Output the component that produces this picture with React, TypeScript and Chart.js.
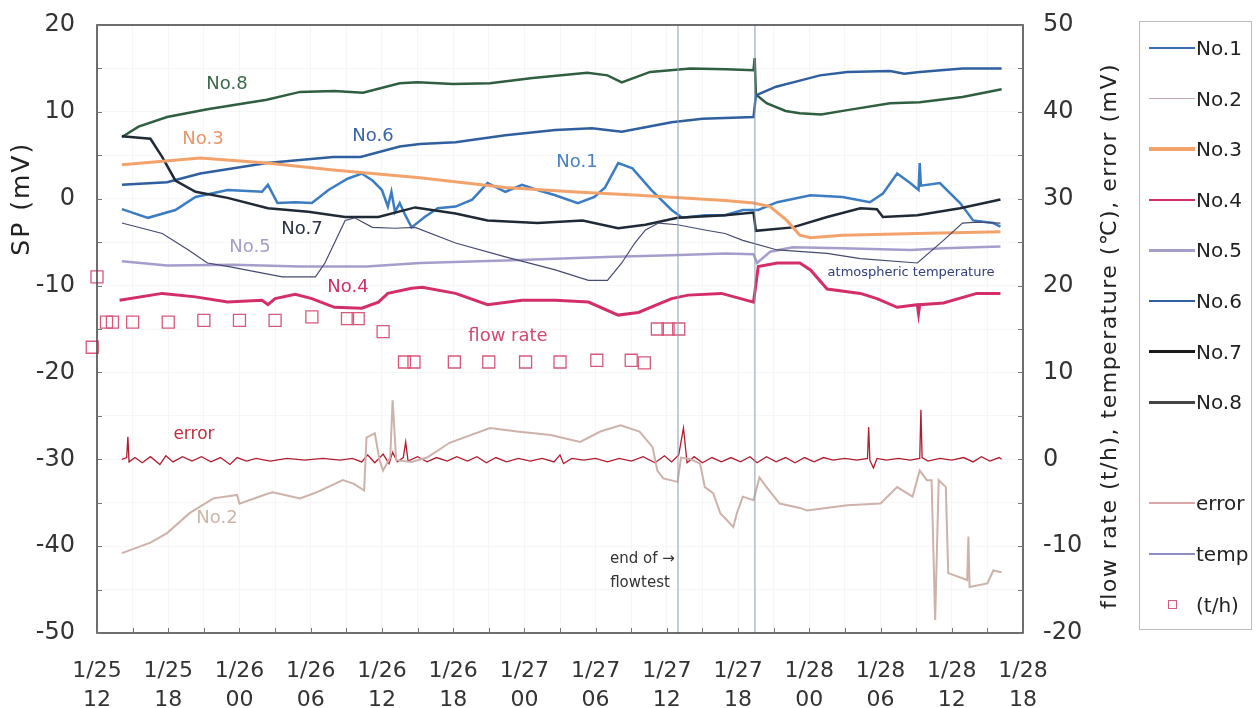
import React, { useEffect, useRef } from 'react';
import { Chart, registerables } from 'chart.js';

Chart.register(...registerables);

const FONT = '"DejaVu Sans", "Noto Sans", sans-serif';

// x axis: hours since 1/25 12:00
const xTickDates = ['1/25', '1/25', '1/26', '1/26', '1/26', '1/26', '1/27', '1/27', '1/27', '1/27', '1/28', '1/28', '1/28', '1/28'];
const xTickHours = ['12', '18', '00', '06', '12', '18', '00', '06', '12', '18', '00', '06', '12', '18'];

// SP (mV), [hour, value]
const no1 = [[2.1, -1.2], [4.3, -2.2], [6.6, -1.3], [8.3, 0.2], [11, 1.0], [13.9, 0.8], [14.4, 1.6], [15.2, -0.5], [16.7, -0.4], [18.1, -0.5], [19.5, 1.0], [21.1, 2.3], [22.3, 2.9], [23.2, 2.1], [24, 1.0], [24.5, -0.9], [24.8, 0.8], [25.1, -1.5], [25.5, -0.5], [25.9, -1.7], [26.5, -3.3], [27.6, -2.1], [28.7, -1.1], [30.2, -0.9], [31.6, -0.1], [32.9, 1.8], [34.4, 0.8], [35.8, 1.6], [37.1, 1.0], [38.6, 0.4], [40.5, -0.5], [41.9, 0.2], [42.8, 1.3], [43.9, 4.1], [45.1, 3.5], [46.7, 1.0], [48.4, -1.3], [49.3, -2.2], [51.2, -1.9], [52.9, -1.9], [54.4, -1.3], [55.7, -1.3], [57.3, -0.4], [60.1, 0.4], [62.8, 0.2], [65.1, -0.4], [66.2, 0.6], [67.4, 2.9], [68.5, 1.8], [69.2, 1.0], [69.3, 4.1], [69.4, 1.5], [71, 1.8], [72.7, -0.5], [73.8, -2.5], [75.5, -2.8], [76.1, -3.2]];
const no2 = [[2.1, -40.8], [4.5, -39.6], [5.9, -38.5], [7.8, -36.2], [9.8, -34.5], [11.8, -34.1], [12, -35.1], [14.3, -34.0], [14.8, -33.8], [17.1, -34.5], [18.5, -33.8], [20.7, -32.4], [21.6, -32.8], [22.5, -33.6], [22.7, -27.5], [23.4, -27.0], [23.8, -30.1], [24.1, -31.3], [24.7, -29.8], [24.9, -23.2], [25.2, -30.1], [26.5, -30.3], [27.8, -29.8], [29.7, -28.1], [33.1, -26.4], [35.4, -26.8], [38.2, -27.2], [40.7, -28.0], [42.4, -26.8], [44.1, -26.1], [45.7, -26.8], [46.8, -28.6], [47.2, -31.3], [47.7, -32.2], [48.9, -32.6], [49.2, -29.8], [50, -30.0], [50.8, -30.5], [51.2, -33.2], [51.9, -33.9], [52.5, -36.2], [53.6, -37.8], [53.9, -36.2], [54.4, -34.3], [55.3, -34.7], [55.8, -32.1], [56.4, -33.2], [57.5, -35.1], [59.2, -35.6], [59.8, -35.9], [63.2, -35.3], [66, -35.1], [67.4, -33.2], [68.7, -34.3], [69.3, -31.3], [69.9, -32.4], [70.3, -32.4], [70.6, -48.5], [70.9, -32.4], [71.5, -33.2], [71.7, -43.1], [73.3, -43.9], [73.4, -38.9], [73.5, -44.7], [75, -44.3], [75.5, -42.8], [76.2, -43.0]];
const no3 = [[2.1, 3.9], [8.7, 4.7], [14.3, 4.1], [19.9, 3.3], [27.2, 2.4], [34.4, 1.3], [40.0, 0.8], [45.6, 0.4], [52.9, -0.2], [55.3, -0.5], [56.7, -0.9], [58.1, -2.5], [59.2, -4.2], [60.1, -4.5], [62.8, -4.2], [69.1, -4.0], [76.1, -3.8]];
const no4 = [[1.9, -11.7], [5.5, -10.9], [8.3, -11.3], [11, -11.9], [13.9, -11.7], [14.4, -12.2], [15, -11.5], [16.7, -11.0], [18.1, -11.5], [20, -12.5], [22.3, -12.6], [23.7, -11.9], [24.5, -10.9], [26.5, -10.3], [27.4, -10.2], [30.2, -10.9], [32.9, -12.2], [35.8, -11.7], [38.6, -11.7], [41.4, -11.9], [43.9, -13.4], [45.6, -13.1], [48.4, -11.5], [49.8, -11.1], [52.6, -10.9], [55.3, -11.9], [55.7, -7.8], [57.3, -7.4], [59.2, -7.4], [60.1, -8.2], [61.5, -10.4], [64.3, -10.9], [65.7, -11.5], [67.4, -12.5], [69.1, -12.2], [69.2, -13.2], [69.3, -12.2], [71.3, -12.0], [74.1, -10.9], [76.1, -10.9]];
const no5 = [[2.1, -7.2], [5.9, -7.7], [11.5, -7.6], [17.1, -7.8], [22.7, -7.8], [27.2, -7.4], [34.4, -7.1], [42.8, -6.7], [48.4, -6.5], [52.9, -6.3], [55.3, -6.4], [55.6, -7.4], [56.7, -6.1], [58.6, -5.6], [62.8, -5.7], [68.5, -5.9], [71.3, -5.7], [76.1, -5.5]];
const no6 = [[2.1, 1.6], [5.9, 1.9], [8.7, 2.9], [14.3, 4.1], [19.9, 4.8], [22.2, 4.8], [25.5, 6.0], [27.2, 6.3], [30.2, 6.5], [34.4, 7.3], [38.6, 7.9], [41.7, 8.1], [44.2, 7.7], [48.4, 8.8], [51, 9.2], [55.3, 9.4], [55.5, 11.9], [57.2, 12.9], [59.2, 13.6], [60.9, 14.2], [63.2, 14.6], [66.8, 14.7], [68, 14.4], [69.3, 14.6], [72.9, 15.0], [76.2, 15.0]];
const no7 = [[2.1, 7.2], [4.5, 6.9], [5.5, 4.8], [6.6, 2.1], [8.3, 0.8], [11, 0.1], [14.4, -1.1], [17.8, -1.5], [20.9, -2.1], [23.7, -2.1], [26.8, -1.0], [30.2, -1.7], [32.9, -2.5], [37.1, -2.8], [40.9, -2.5], [43.9, -3.4], [46.2, -3.0], [48.9, -2.2], [52.9, -1.9], [55.3, -1.6], [55.5, -3.7], [58.6, -3.3], [61.5, -2.1], [64.3, -1.1], [65.7, -1.2], [66.2, -2.1], [69.1, -1.9], [72.7, -1.1], [76.1, -0.1]];
const no8 = [[2.1, 7.1], [3.5, 8.3], [5.9, 9.4], [9.3, 10.3], [14.3, 11.4], [17.1, 12.3], [20, 12.4], [22.4, 12.2], [25.5, 13.3], [27, 13.4], [30, 13.2], [33.1, 13.3], [36.7, 13.9], [41.3, 14.5], [43, 14.2], [44.2, 13.4], [46.6, 14.6], [50, 15.0], [53, 14.9], [55.3, 14.8], [55.4, 16.2], [55.5, 12.0], [56.4, 11.0], [58, 10.1], [59.2, 9.85], [61, 9.7], [63.2, 10.2], [66.8, 11.0], [69.3, 11.1], [72.9, 11.7], [76.2, 12.6]];

// right axis: temperature (°C), error (mV), flow rate (t/h)
const tempC = [[2.1, 27.2], [5.5, 26.0], [7.7, 24.1], [9.3, 22.6], [11, 22.2], [13.3, 21.6], [15.6, 21.0], [18.4, 21.0], [19.2, 22.6], [20, 24.9], [20.9, 27.5], [21.7, 27.8], [23.2, 26.7], [25.1, 26.6], [26.8, 26.7], [30.2, 24.9], [34.4, 23.3], [38.6, 21.8], [41.4, 20.6], [43, 20.6], [44.2, 22.6], [45.3, 24.9], [46.2, 26.4], [47.3, 27.2], [48.9, 27.0], [51.2, 26.4], [52.9, 26.0], [54.4, 25.2], [57.3, 24.1], [61.5, 23.7], [64.3, 23.1], [69.1, 22.6], [71.3, 25.2], [72.9, 27.2], [74.1, 27.3], [76.1, 27.2]];
const errorMV = [[2.1, 0], [2.5, 0.2], [2.6, 2.6], [2.7, -0.3], [3.2, 0.2], [3.8, -0.4], [4.5, 0.3], [5.3, -0.6], [5.8, 0.4], [6.4, -0.3], [7.2, 0.3], [8, -0.2], [8.8, 0.3], [9.6, -0.3], [10.4, 0.2], [11.2, -0.6], [11.8, 0.2], [12.6, -0.2], [13.4, 0.1], [14.6, -0.2], [16, 0.1], [17.5, -0.1], [19, 0.1], [20.5, -0.1], [21.5, 0.1], [22.3, -0.3], [22.8, 0.5], [23.4, -0.4], [24.1, 0.6], [24.6, -0.5], [24.9, 0.8], [25.3, -0.3], [25.8, 0.2], [26.0, 2.0], [26.2, -0.2], [27, 0.3], [27.8, -0.3], [28.6, 0.2], [29.5, -0.2], [30.3, 0.3], [31.2, -0.2], [32.0, 0.3], [32.8, -0.4], [33.6, 0.2], [34.5, -0.3], [35.5, 0.1], [36.5, -0.2], [37.5, 0.1], [38.5, -0.3], [39.0, 0.5], [39.3, -0.5], [40, 0.1], [41, -0.1], [42, 0.1], [43, -0.3], [44, 0.1], [45, -0.2], [46, 0.3], [47, -0.4], [47.8, 0.4], [48.4, -0.3], [49, 0.5], [49.4, 3.6], [49.7, -0.4], [50.3, 0.3], [51, -0.4], [51.8, 0.2], [52.6, -0.3], [53.4, 0.2], [54.2, -0.3], [55, 0.3], [55.6, -0.4], [56.4, 0.3], [57.2, -0.3], [58, 0.2], [58.8, -0.4], [59.6, 0.2], [60.4, -0.3], [61.2, 0.2], [62, -0.1], [63, 0.1], [64, -0.1], [64.9, 0.1], [65.0, 3.7], [65.1, -0.1], [65.4, -1.0], [65.7, 0.1], [66.5, -0.1], [67.5, 0.1], [68.5, -0.1], [69.3, 0.1], [69.4, 5.7], [69.5, 0.2], [70, -0.2], [71, 0.1], [72, -0.1], [73, 0.2], [73.8, -0.3], [74.5, 0.3], [75.2, -0.2], [76, 0.2], [76.2, 0]];
const flowTH = [[-0.4, 12.9], [0, 21.0], [0.8, 15.8], [1.3, 15.8], [3, 15.8], [6, 15.8], [9, 16.0], [12, 16.0], [15, 16.0], [18.1, 16.4], [21.1, 16.2], [22, 16.2], [24.1, 14.7], [25.9, 11.2], [26.7, 11.2], [30.1, 11.2], [33, 11.2], [36.1, 11.2], [39, 11.2], [42.1, 11.4], [45, 11.4], [46.1, 11.1], [47.2, 15.0], [48.1, 15.0], [49, 15.0]];

// vertical markers (hours)
const markerHours = [48.94, 55.42];

const COLORS = {
  no1: '#3b7cc2', no2: '#cdb2aa', no3: '#f2a36c', no4: '#d42e6a', no5: '#a79dcc',
  no6: '#2f5f9f', no7: '#1f2a36', no8: '#2f5e40', temp: '#454a70', error: '#b01c30', flow: '#d8587a',
};

const annotations = [
  { text: 'No.8', x: 10.95, y: 13.2, color: '#3b6a48', size: 18 },
  { text: 'No.3', x: 8.93, y: 6.86, color: '#eb9568', size: 18 },
  { text: 'No.6', x: 23.25, y: 7.22, color: '#3a64a8', size: 18 },
  { text: 'No.1', x: 40.43, y: 4.23, color: '#4a80c0', size: 18 },
  { text: 'No.7', x: 17.27, y: -3.5, color: '#2a3340', size: 18 },
  { text: 'No.5', x: 12.89, y: -5.56, color: '#a49cca', size: 18 },
  { text: 'No.4', x: 21.14, y: -10.17, color: '#d0306a', size: 18 },
  { text: 'flow rate', x: 34.62, y: -15.9, color: '#d04a70', size: 18 },
  { text: 'error', x: 8.17, y: -27.2, color: '#c03040', size: 17 },
  { text: 'No.2', x: 10.11, y: -36.8, color: '#cdb6a8', size: 18 },
  { text: 'atmospheric temperature', x: 68.57, y: -8.55, color: '#34407c', size: 13 },
  { text: 'end of \u2192', x: 45.95, y: -41.5, color: '#333', size: 15 },
  { text: 'flowtest', x: 45.74, y: -44.3, color: '#333', size: 15 },
];

const legendItems = [
  { label: 'No.1', color: '#3a6cb0', width: 2.5, kind: 'line' },
  { label: 'No.2', color: '#c4aaa8', width: 1.5, kind: 'line' },
  { label: 'No.3', color: '#f2a36c', width: 4, kind: 'line' },
  { label: 'No.4', color: '#d42e6a', width: 2.5, kind: 'line' },
  { label: 'No.5', color: '#a79dcc', width: 2.5, kind: 'line' },
  { label: 'No.6', color: '#2f5f9f', width: 2.5, kind: 'line' },
  { label: 'No.7', color: '#1a1a1a', width: 2.5, kind: 'line' },
  { label: 'No.8', color: '#444444', width: 3, kind: 'line' },
  null,
  { label: 'error', color: '#d8a8a8', width: 2, kind: 'line' },
  { label: 'temp', color: '#8c8ec4', width: 1.5, kind: 'line' },
  { label: '(t/h)', color: '#d8587a', width: 1, kind: 'square' },
];

const pts = (arr: number[][]) => arr.map(([x, y]) => ({ x, y }));

const decorPlugin = {
  id: 'decor',
  afterDraw(chart: any) {
    const { ctx, chartArea, scales } = chart;
    const x = scales.x, yl = scales.y, yr = scales.y2;
    ctx.save();
    // plot frame
    ctx.strokeStyle = '#4a4a4a';
    ctx.lineWidth = 1.6;
    ctx.strokeRect(chartArea.left, chartArea.top, chartArea.right - chartArea.left, chartArea.bottom - chartArea.top);
    // inward tick marks
    ctx.strokeStyle = '#777';
    ctx.lineWidth = 1;
    ctx.beginPath();
    for (let h = 0; h <= 78; h += 3) {
      const px = Math.round(x.getPixelForValue(h)) + 0.5;
      ctx.moveTo(px, chartArea.bottom);
      ctx.lineTo(px, chartArea.bottom - 5);
    }
    for (let v = -50; v <= 20; v += 5) {
      const py = Math.round(yl.getPixelForValue(v)) + 0.5;
      ctx.moveTo(chartArea.left, py);
      ctx.lineTo(chartArea.left + 5, py);
    }
    for (let v = -20; v <= 50; v += 5) {
      const py = Math.round(yr.getPixelForValue(v)) + 0.5;
      ctx.moveTo(chartArea.right, py);
      ctx.lineTo(chartArea.right - 5, py);
    }
    ctx.stroke();
    // annotations
    ctx.textBaseline = 'middle';
    annotations.forEach((a) => {
      ctx.font = `${a.size}px ${FONT}`;
      ctx.fillStyle = a.color;
      ctx.textAlign = 'center';
      ctx.fillText(a.text, x.getPixelForValue(a.x), yl.getPixelForValue(a.y));
    });
    // axis titles
    ctx.fillStyle = '#222';
    ctx.textAlign = 'center';
    ctx.save();
    ctx.translate(chartArea.left - 75, yl.getPixelForValue(0));
    ctx.rotate(-Math.PI / 2);
    ctx.font = `25px ${FONT}`;
    (ctx as any).letterSpacing = '2px';
    ctx.fillText('SP (mV)', 0, 0);
    ctx.restore();
    ctx.save();
    ctx.translate(chartArea.right + 87, (chartArea.top + chartArea.bottom) / 2 + 7);
    ctx.rotate(-Math.PI / 2);
    ctx.font = `22px ${FONT}`;
    (ctx as any).letterSpacing = '1.5px';
    ctx.fillText('flow rate (t/h), temperature (\u2103), error (mV)', 0, 0);
    ctx.restore();
    ctx.restore();
  },
};

export default function App() {
  const ref = useRef<HTMLCanvasElement | null>(null);

  useEffect(() => {
    const line = (label: string, data: number[][], color: string, width: number, axis = 'y') => ({
      label,
      data: pts(data),
      borderColor: color,
      backgroundColor: color,
      borderWidth: width,
      pointRadius: 0,
      tension: 0,
      fill: false,
      yAxisID: axis,
    });

    const datasets: any[] = [
      ...markerHours.map((h, i) => ({
        label: 'marker' + i,
        data: [{ x: h, y: -50 }, { x: h, y: 20 }],
        borderColor: '#8c9cab',
        borderWidth: 1,
        pointRadius: 0,
        yAxisID: 'y',
      })),
      line('No.2', no2, COLORS.no2, 2),
      line('error', errorMV, COLORS.error, 1.3, 'y2'),
      line('temp', tempC, COLORS.temp, 1.2, 'y2'),
      line('No.5', no5, COLORS.no5, 2.5),
      line('No.3', no3, COLORS.no3, 3),
      line('No.4', no4, COLORS.no4, 3),
      line('No.7', no7, COLORS.no7, 2.5),
      line('No.1', no1, COLORS.no1, 2.5),
      line('No.6', no6, COLORS.no6, 2.5),
      line('No.8', no8, COLORS.no8, 2.5),
      {
        label: '(t/h)',
        data: pts(flowTH),
        showLine: false,
        pointStyle: 'rect',
        pointRadius: 8.5,
        pointBorderWidth: 1.3,
        pointBorderColor: COLORS.flow,
        pointBackgroundColor: 'rgba(0,0,0,0)',
        yAxisID: 'y2',
        clip: false,
      },
    ];

    const chart = new Chart(ref.current as HTMLCanvasElement, {
      type: 'line',
      data: { datasets },
      options: {
        animation: false,
        responsive: false,
        devicePixelRatio: 1,
        layout: { padding: { left: 0, top: 25, right: 127, bottom: 0 } },
        plugins: { legend: { display: false }, tooltip: { enabled: false } },
        scales: {
          x: {
            type: 'linear',
            min: 0,
            max: 78,
            afterFit: (s: any) => { s.height = 75; s.paddingLeft = 0; s.paddingRight = 0; },
            ticks: {
              stepSize: 3,
              autoSkip: false,
              maxRotation: 0,
              padding: 24,
              color: '#333',
              font: { family: FONT, size: 22, lineHeight: 1.3 },
              callback: (v: any) => {
                const n = Number(v);
                if (n % 6 !== 0) return '';
                const i = n / 6;
                return [xTickDates[i], xTickHours[i]];
              },
            },
            grid: { color: 'rgba(0,0,0,0.035)', drawTicks: false },
            border: { display: false },
          },
          y: {
            type: 'linear',
            position: 'left',
            min: -50,
            max: 20,
            afterFit: (s: any) => { s.width = 97; s.paddingTop = 0; s.paddingBottom = 0; },
            ticks: {
              stepSize: 5,
              padding: 22,
              color: '#333',
              font: { family: FONT, size: 24 },
              callback: (v: any) => (Number(v) % 10 === 0 ? String(v) : ''),
            },
            grid: { color: 'rgba(0,0,0,0.03)', drawTicks: false },
            border: { display: false },
          },
          y2: {
            type: 'linear',
            position: 'right',
            min: -20,
            max: 50,
            afterFit: (s: any) => { s.width = 110; s.paddingTop = 0; s.paddingBottom = 0; },
            ticks: {
              stepSize: 5,
              padding: 20,
              color: '#333',
              font: { family: FONT, size: 24 },
              callback: (v: any) => (Number(v) % 10 === 0 ? String(v) : ''),
            },
            grid: { drawOnChartArea: false, drawTicks: false },
            border: { display: false },
          },
        },
      },
      plugins: [decorPlugin],
    } as any);

    return () => chart.destroy();
  }, []);

  const rowCenters = legendItems.map((_, i) => 47 + 50.6 * i);

  return (
    <div style={{ position: 'fixed', left: 0, top: 0, width: 1260, height: 708, background: '#fff' }}>
      <canvas ref={ref} width={1260} height={708} style={{ position: 'absolute', left: 0, top: 0 }} />
      <div
        style={{
          position: 'absolute', left: 1139, top: 21, width: 113, height: 609,
          border: '1px solid #bcbcbc', boxSizing: 'border-box', fontFamily: FONT,
        }}
      >
        {legendItems.map((it, i) =>
          it ? (
            <div key={i} style={{ position: 'absolute', left: 0, top: rowCenters[i] - 21 - 14, height: 28, width: 112 }}>
              {it.kind === 'line' ? (
                <div style={{ position: 'absolute', left: 9, top: 14 - it.width / 2, width: 46, height: it.width, background: it.color }} />
              ) : (
                <div style={{ position: 'absolute', left: 28, top: 9, width: 9, height: 9, border: `1.3px solid ${it.color}`, boxSizing: 'border-box' }} />
              )}
              <div style={{ position: 'absolute', left: 56, top: 0, lineHeight: '28px', fontSize: 20, color: '#222', whiteSpace: 'nowrap' }}>
                {it.label}
              </div>
            </div>
          ) : null
        )}
      </div>
    </div>
  );
}
